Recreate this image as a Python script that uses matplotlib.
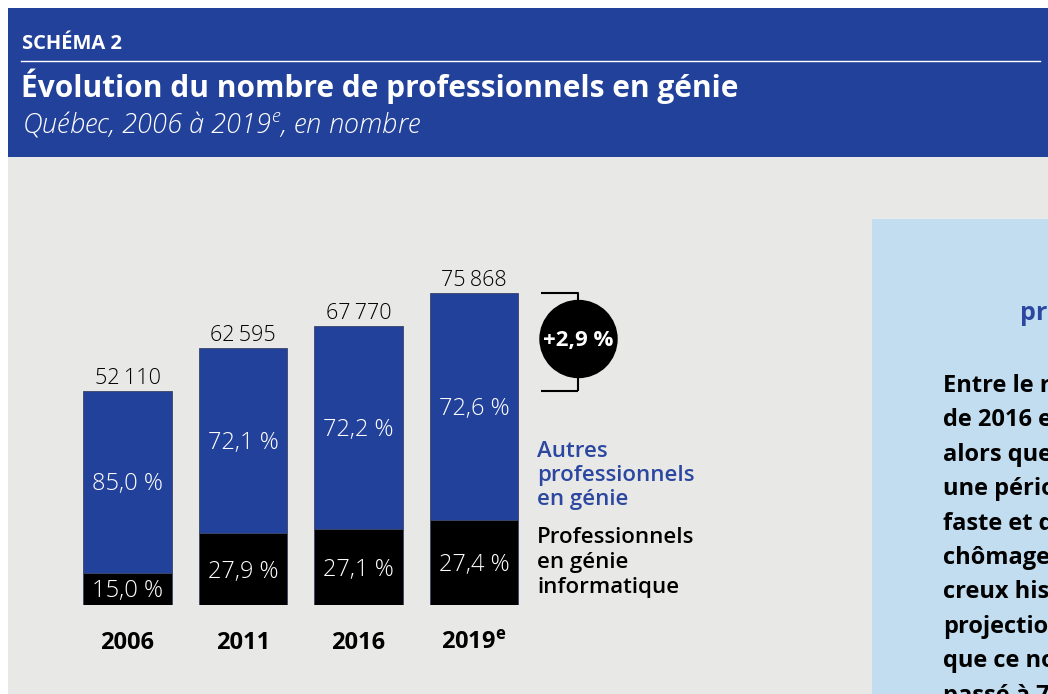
import matplotlib
matplotlib.use("Agg")
import matplotlib.pyplot as plt
from matplotlib.patches import Rectangle, Circle

# ---- data ----
years = ["2006", "2011", "2016", "2019"]
year_labels = ["2006", "2011", "2016", r"2019$^{\mathbf{e}}$"]
totals = [52110, 62595, 67770, 75868]
share_info = [15.0, 27.9, 27.1, 27.4]
share_other = [85.0, 72.1, 72.2, 72.6]
growth_label = "+2,9 %"
legend_other = ["Autres", "professionnels", "en génie"]
legend_info = ["Professionnels", "en génie", "informatique"]

FONT = "Open Sans"
plt.rcParams["font.family"] = [FONT, "DejaVu Sans"]
plt.rcParams["mathtext.fontset"] = "custom"
plt.rcParams["mathtext.rm"] = FONT
plt.rcParams["mathtext.it"] = FONT + ":italic:light"
plt.rcParams["mathtext.bf"] = FONT + ":bold"

BLUE = "#22419A"
TXTBLUE = "#2B47A0"
GRAY = "#E8E8E6"
LIGHT = "#C2DDEF"

W, H = 1048, 694
PT = 72 / 100  # points per pixel
fig = plt.figure(figsize=(W / 100, H / 100), dpi=100)
fig.patch.set_facecolor("white")

# background overlay axes in pixel coordinates
bg = fig.add_axes([0, 0, 1, 1])
bg.set_xlim(0, W)
bg.set_ylim(H, 0)
bg.axis("off")
bg.add_patch(Rectangle((8, 157), W, H, color=GRAY, lw=0))
bg.add_patch(Rectangle((8, 8), W, 149, color=BLUE, lw=0))
bg.add_patch(Rectangle((872, 219), 200, 500, color=LIGHT, lw=0))
bg.plot([21, 1040], [61, 61], color="white", lw=1.0)

bg.text(22, 49, "SCHÉMA 2", color="white", fontsize=14.5, fontweight="bold", va="baseline")
bg.text(21, 97, "Évolution du nombre de professionnels en génie", color="white",
        fontsize=21.5, fontweight="bold", va="baseline")
bg.text(22, 132, r"Québec, 2006 à 2019$^{e}$, en nombre", color="white",
        fontsize=19.6, style="italic", fontweight=300, va="baseline")

# right panel (cut by the figure edge, as in the reference)
bg.text(1020, 320, "progression", color=TXTBLUE, fontsize=18, fontweight="bold", va="baseline")
panel_lines = ["Entre le recensement", "de 2016 et 2019,", "alors que", "une période",
               "faste et de", "chômage", "creux historique", "projections", "que ce nombre",
               "passé à 75 868"]
for i, ln in enumerate(panel_lines):
    bg.text(943, 392 + 34.4 * i, ln, color="black", fontsize=17, fontweight="bold", va="baseline")

# bar axes: x data -0.5..3.5 -> px 69.75..531.75 ; y 0 at px 605
x0, x1 = 69.75, 531.75
ybot, ytop = 605, 205
ymax = 75868 * (ybot - ytop) / (605 - 293)
ax = fig.add_axes([x0 / W, 1 - ybot / H, (x1 - x0) / W, (ybot - ytop) / H])
ax.set_xlim(-0.5, 3.5)
ax.set_ylim(0, ymax)
ax.axis("off")
ax.patch.set_alpha(0)

xs = list(range(len(years)))
width = 0.77
info_vals = [t * s / 100 for t, s in zip(totals, share_info)]
other_vals = [t - v for t, v in zip(totals, info_vals)]
ax.bar(xs, info_vals, width=width, color="black", edgecolor="#3a4565", lw=0.6)
ax.bar(xs, other_vals, bottom=info_vals, width=width, color=BLUE, edgecolor="#3a4565", lw=0.6)

def fr_pct(v):
    return f"{v:.1f}".replace(".", ",") + " %"

half_cap = -8.5 * PT
for x, t, iv, ov, si, so, yl in zip(xs, totals, info_vals, other_vals, share_info, share_other, year_labels):
    ax.annotate(f"{t:,}".replace(",", "\u2009"), (x, t), xytext=(0, 7 * PT), textcoords="offset points",
                ha="center", va="baseline", fontsize=15.5, fontweight=300, color="black")
    ax.annotate(fr_pct(si), (x, iv / 2), xytext=(0, half_cap), textcoords="offset points",
                ha="center", va="baseline", color="white", fontsize=17, fontweight=300)
    ax.annotate(fr_pct(so), (x, iv + ov / 2), xytext=(0, half_cap), textcoords="offset points",
                ha="center", va="baseline", color="white", fontsize=17, fontweight=300)
    ax.annotate(yl, (x, 0), xytext=(0, -44 * PT), textcoords="offset points", ha="center",
                va="baseline", fontsize=17, fontweight="bold", color="black")

# bracket from 2006 top to 2019 top
bx0, bx1 = 3.58, 3.90
lo, hi = totals[0], totals[-1]
ax.plot([bx0, bx1, bx1], [hi, hi, lo], color="black", lw=1.5, clip_on=False, solid_capstyle="butt")
ax.plot([bx0, bx1], [lo, lo], color="black", lw=1.5, clip_on=False, solid_capstyle="butt")

# foreground overlay (pixel coords)
fg = fig.add_axes([0, 0, 1, 1])
fg.set_xlim(0, W)
fg.set_ylim(H, 0)
fg.axis("off")
fg.patch.set_alpha(0)
cx, cy = 578.5, 339
fg.add_patch(Circle((cx, cy), 38.5, color="black"))
fg.text(cx, cy + 7, growth_label, color="white", fontsize=16, fontweight="bold",
        ha="center", va="baseline")

# legend text
for i, ln in enumerate(legend_other):
    fg.text(537, 457 + 24 * i, ln, color=TXTBLUE, fontsize=16, fontweight=600, va="baseline")
for i, ln in enumerate(legend_info):
    fg.text(537, 543 + 25 * i, ln, color="black", fontsize=16, fontweight=600, va="baseline")

fig.savefig("out.png", dpi=100)
